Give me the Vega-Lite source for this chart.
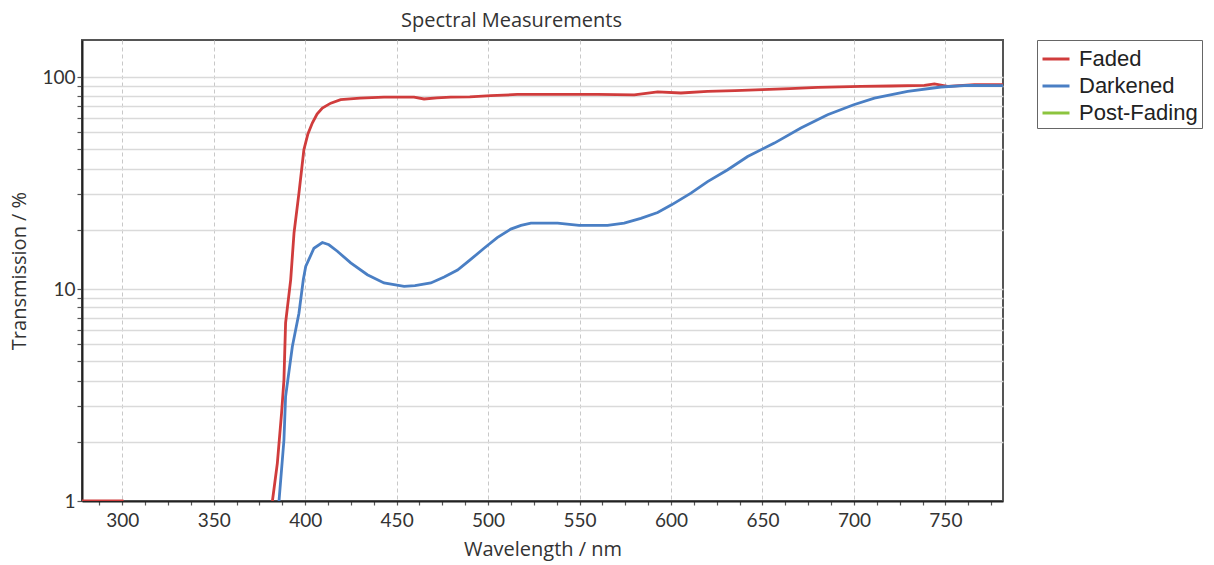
{
  "$schema": "https://vega.github.io/schema/vega-lite/v6.json",
  "width": 921,
  "height": 461,
  "autosize": {"type": "none"},
  "padding": {"left": 82, "top": 40, "right": 211, "bottom": 64},
  "background": "white",
  "title": {"text": "Spectral Measurements", "font": "Open Sans", "fontSize": 20, "fontWeight": "normal", "color": "#333333", "anchor": "middle", "dx": -31, "offset": 9},
  "config": {"view": {"stroke": "#555555", "strokeWidth": 2}},
  "data": {"values": [
    {"wl": 278, "t": 1, "series": "Faded"},
    {"wl": 300, "t": 1, "series": "Faded"},
    {"wl": 301, "t": 0.8, "series": "Faded"},
    {"wl": 380, "t": 0.8, "series": "Faded"},
    {"wl": 382.1, "t": 1, "series": "Faded"},
    {"wl": 384.8, "t": 1.51, "series": "Faded"},
    {"wl": 387.1, "t": 2.6, "series": "Faded"},
    {"wl": 388.4, "t": 3.73, "series": "Faded"},
    {"wl": 389.3, "t": 6.93, "series": "Faded"},
    {"wl": 392.1, "t": 11.1, "series": "Faded"},
    {"wl": 393.9, "t": 18.4, "series": "Faded"},
    {"wl": 396.6, "t": 28.4, "series": "Faded"},
    {"wl": 399.3, "t": 45.5, "series": "Faded"},
    {"wl": 401.5, "t": 54, "series": "Faded"},
    {"wl": 403.9, "t": 60.8, "series": "Faded"},
    {"wl": 406.5, "t": 67, "series": "Faded"},
    {"wl": 409.4, "t": 71.6, "series": "Faded"},
    {"wl": 414, "t": 75.5, "series": "Faded"},
    {"wl": 419.4, "t": 78.4, "series": "Faded"},
    {"wl": 430, "t": 79.8, "series": "Faded"},
    {"wl": 443.1, "t": 80.7, "series": "Faded"},
    {"wl": 459.5, "t": 80.7, "series": "Faded"},
    {"wl": 465, "t": 79, "series": "Faded"},
    {"wl": 472, "t": 80, "series": "Faded"},
    {"wl": 479.6, "t": 80.7, "series": "Faded"},
    {"wl": 490, "t": 80.8, "series": "Faded"},
    {"wl": 501.5, "t": 81.9, "series": "Faded"},
    {"wl": 516, "t": 83, "series": "Faded"},
    {"wl": 534, "t": 83, "series": "Faded"},
    {"wl": 560, "t": 83, "series": "Faded"},
    {"wl": 579.9, "t": 82.7, "series": "Faded"},
    {"wl": 592.7, "t": 85.3, "series": "Faded"},
    {"wl": 605.4, "t": 84.3, "series": "Faded"},
    {"wl": 620, "t": 85.8, "series": "Faded"},
    {"wl": 635, "t": 86.5, "series": "Faded"},
    {"wl": 650, "t": 87.4, "series": "Faded"},
    {"wl": 665, "t": 88.5, "series": "Faded"},
    {"wl": 680.2, "t": 89.6, "series": "Faded"},
    {"wl": 703.9, "t": 90.6, "series": "Faded"},
    {"wl": 720, "t": 91, "series": "Faded"},
    {"wl": 738.5, "t": 91.6, "series": "Faded"},
    {"wl": 744, "t": 93, "series": "Faded"},
    {"wl": 751.3, "t": 90.6, "series": "Faded"},
    {"wl": 765.9, "t": 92.3, "series": "Faded"},
    {"wl": 781.5, "t": 92.3, "series": "Faded"},
    {"wl": 385, "t": 0.8, "series": "Darkened"},
    {"wl": 385.7, "t": 1, "series": "Darkened"},
    {"wl": 388.4, "t": 1.94, "series": "Darkened"},
    {"wl": 389.3, "t": 3.11, "series": "Darkened"},
    {"wl": 393, "t": 5.36, "series": "Darkened"},
    {"wl": 396.6, "t": 7.7, "series": "Darkened"},
    {"wl": 399, "t": 11.1, "series": "Darkened"},
    {"wl": 400.3, "t": 12.8, "series": "Darkened"},
    {"wl": 404.8, "t": 15.6, "series": "Darkened"},
    {"wl": 409.4, "t": 16.6, "series": "Darkened"},
    {"wl": 413, "t": 16.2, "series": "Darkened"},
    {"wl": 417.6, "t": 15.1, "series": "Darkened"},
    {"wl": 424.9, "t": 13.3, "series": "Darkened"},
    {"wl": 434, "t": 11.7, "series": "Darkened"},
    {"wl": 443.1, "t": 10.7, "series": "Darkened"},
    {"wl": 454.1, "t": 10.3, "series": "Darkened"},
    {"wl": 460, "t": 10.4, "series": "Darkened"},
    {"wl": 468.7, "t": 10.7, "series": "Darkened"},
    {"wl": 476, "t": 11.4, "series": "Darkened"},
    {"wl": 483.3, "t": 12.3, "series": "Darkened"},
    {"wl": 490, "t": 13.7, "series": "Darkened"},
    {"wl": 497.8, "t": 15.6, "series": "Darkened"},
    {"wl": 505, "t": 17.5, "series": "Darkened"},
    {"wl": 512.4, "t": 19.2, "series": "Darkened"},
    {"wl": 518, "t": 20, "series": "Darkened"},
    {"wl": 523.4, "t": 20.5, "series": "Darkened"},
    {"wl": 538, "t": 20.5, "series": "Darkened"},
    {"wl": 549.8, "t": 20, "series": "Darkened"},
    {"wl": 565.3, "t": 20, "series": "Darkened"},
    {"wl": 574.4, "t": 20.5, "series": "Darkened"},
    {"wl": 583.5, "t": 21.6, "series": "Darkened"},
    {"wl": 592.7, "t": 23, "series": "Darkened"},
    {"wl": 600.3, "t": 25, "series": "Darkened"},
    {"wl": 610.9, "t": 28.4, "series": "Darkened"},
    {"wl": 620, "t": 32.2, "series": "Darkened"},
    {"wl": 631, "t": 36.6, "series": "Darkened"},
    {"wl": 641.9, "t": 42.3, "series": "Darkened"},
    {"wl": 656.5, "t": 48.9, "series": "Darkened"},
    {"wl": 671, "t": 57.6, "series": "Darkened"},
    {"wl": 685.6, "t": 66.6, "series": "Darkened"},
    {"wl": 699.9, "t": 74.2, "series": "Darkened"},
    {"wl": 711.2, "t": 79.8, "series": "Darkened"},
    {"wl": 729.4, "t": 85.8, "series": "Darkened"},
    {"wl": 747.6, "t": 90, "series": "Darkened"},
    {"wl": 762.3, "t": 91.6, "series": "Darkened"},
    {"wl": 781.5, "t": 91.3, "series": "Darkened"}
  ]},
  "mark": {"type": "line", "clip": true, "strokeWidth": 2.8, "interpolate": "linear"},
  "encoding": {
    "x": {
      "field": "wl", "type": "quantitative",
      "scale": {"domain": [278, 781.5], "nice": false, "zero": false},
      "axis": {
        "title": "Wavelength / nm",
        "titleFont": "Open Sans", "titleFontSize": 20, "titleFontWeight": "normal", "titleColor": "#333333", "titlePadding": 9,
        "labelFont": "Lato", "labelFontSize": 19, "labelColor": "#333333", "labelPadding": 6,
        "labelOverlap": false, "labelFlush": false,
        "values": [287.5, 300, 312.5, 325, 337.5, 350, 362.5, 375, 387.5, 400, 412.5, 425, 437.5, 450, 462.5, 475, 487.5, 500, 512.5, 525, 537.5, 550, 562.5, 575, 587.5, 600, 612.5, 625, 637.5, 650, 662.5, 675, 687.5, 700, 712.5, 725, 737.5, 750, 762.5, 775],
        "labelExpr": "datum.value % 50 == 0 ? format(datum.value, 'd') : ''",
        "grid": true,
        "gridColor": "#c8c8c8",
        "gridDash": [4, 3],
        "gridWidth": 1,
        "gridOpacity": {"condition": {"test": "datum.value % 50 == 0", "value": 1}, "value": 0},
        "tickSize": 4, "tickColor": "#555555", "tickWidth": 1.2,
        "domainColor": "#222222", "domainWidth": 2
      }
    },
    "y": {
      "field": "t", "type": "quantitative",
      "scale": {"type": "log", "domain": [1, 150], "nice": false},
      "axis": {
        "title": "Transmission / %",
        "titleFont": "Open Sans", "titleFontSize": 20, "titleFontWeight": "normal", "titleColor": "#333333", "titlePadding": 12,
        "labelFont": "Lato", "labelFontSize": 19, "labelColor": "#333333", "labelPadding": 2,
        "labelOverlap": false,
        "values": [1, 1.9, 2.8, 3.7, 4.6, 5.5, 6.4, 7.3, 8.2, 9.1, 10, 19, 28, 37, 46, 55, 64, 73, 82, 91, 100],
        "labelExpr": "datum.value == 1 || datum.value == 10 || datum.value == 100 ? format(datum.value, 'd') : ''",
        "grid": true,
        "gridColor": "#dadada",
        "gridWidth": 1.5,
        "tickSize": 5, "tickColor": "#555555", "tickWidth": 1.2,
        "domainColor": "#222222", "domainWidth": 2
      }
    },
    "color": {
      "field": "series", "type": "nominal",
      "scale": {"domain": ["Faded", "Darkened", "Post-Fading"], "range": ["#d03c3c", "#4a7fc4", "#8cc43e"]},
      "legend": {
        "title": null,
        "orient": "none", "legendX": 955, "legendY": 0,
        "strokeColor": "#666666", "fillColor": "white", "padding": 4,
        "symbolType": "stroke", "symbolSize": 729, "symbolStrokeWidth": 3,
        "labelFont": "Liberation Sans", "labelFontSize": 22, "labelColor": "#222222",
        "labelOffset": 8, "rowPadding": 1
      }
    },
    "order": {"field": "series", "type": "nominal"}
  }
}
